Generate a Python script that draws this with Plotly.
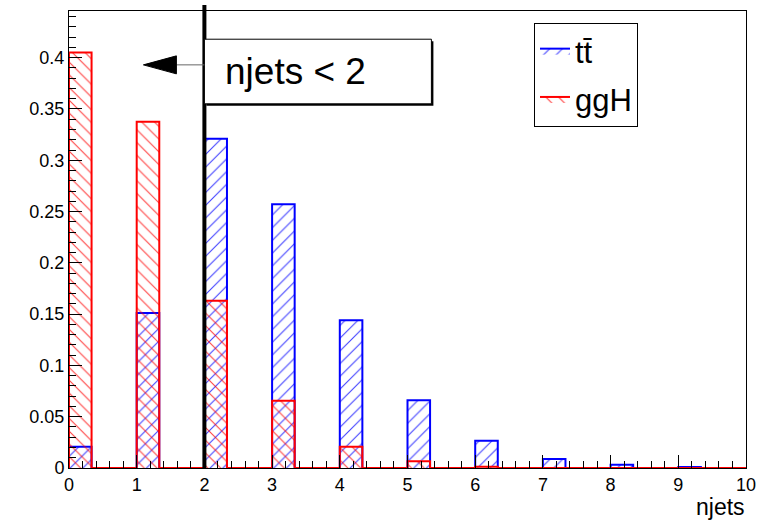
import numpy as np
import plotly.graph_objects as go

# ---- data: normalized njets distributions (fraction of events per njets value)
njets = [0, 1, 2, 3, 4, 5, 6, 7, 8, 9]
ttbar_frac = [0.0207, 0.151, 0.321, 0.257, 0.144, 0.066, 0.0266, 0.0088, 0.0032, 0.0010]
ggh_frac = [0.405, 0.3375, 0.163, 0.0655, 0.0207, 0.0065, 0.0013, 0.0, 0.0, 0.0]
series_names = ["tt\u0304", "ggH"]
cut_value = 2
cut_label = "njets < 2"
x_ticks = list(range(0, 11))

# histogram binning: 30 bins between 0 and 10 (only first third of each unit filled)
n_bins, x_lo, x_hi = 30, 0.0, 10.0
edges = np.linspace(x_lo, x_hi, n_bins + 1)
bin_w = (x_hi - x_lo) / n_bins


def to_bins(values):
    contents = np.zeros(n_bins)
    for n, v in zip(njets, values):
        idx = int(round((n - x_lo) / bin_w))
        contents[idx] = v
    return contents


def step_xy(contents):
    xs = [edges[0]] + list(edges[:-1]) + [edges[-1]]
    ys = [0.0] + list(contents) + [contents[-1]]
    return xs, ys


y_max = max(max(ttbar_frac), max(ggh_frac)) * 1.1

fig = go.Figure()

styles = [
    dict(color="#0000ff", shape="/"),
    dict(color="#ff0000", shape="\\"),
]
for name, vals, st in zip(series_names, [ttbar_frac, ggh_frac], styles):
    xs, ys = step_xy(to_bins(vals))
    fig.add_trace(go.Scatter(
        x=xs, y=ys, mode="lines", name=name, legendgroup=name,
        line=dict(color=st["color"], width=2, shape="hv"),
        fill="tozeroy", fillcolor="rgba(0,0,0,0)",
        fillpattern=dict(shape=st["shape"], fgcolor=st["color"], bgcolor="rgba(0,0,0,0)",
                         size=9, solidity=0.12, fgopacity=0.75),
    ))

plot_w = 774 - 69 - 28
px_per_x = plot_w / (x_hi - x_lo)
plot_h = 526 - 11 - 58
px_per_y = plot_h / y_max

# cut line
fig.add_shape(type="line", xref="x", yref="paper", x0=cut_value, x1=cut_value,
              y0=0, y1=1 + 6 / plot_h, line=dict(color="black", width=4), layer="above")

# text box (TPaveText-like) with small shadow
box_x1 = cut_value + 227 / px_per_x
box_y0 = 0.355
box_y1 = 0.418
fig.add_shape(type="rect", xref="x", yref="y",
              x0=cut_value + 2 / px_per_x, x1=box_x1 + 2 / px_per_x,
              y0=box_y0 - 2 / px_per_y, y1=box_y1 - 2 / px_per_y,
              fillcolor="black", line=dict(width=0), layer="above")
fig.add_shape(type="rect", xref="x", yref="y", x0=cut_value, x1=box_x1,
              y0=box_y0, y1=box_y1, fillcolor="white",
              line=dict(color="black", width=1), layer="above")
fig.add_annotation(x=cut_value + 19 / px_per_x, y=(box_y0 + box_y1) / 2, xref="x", yref="y",
                   text=cut_label, showarrow=False, xanchor="left", yanchor="middle",
                   font=dict(size=37, color="black", family="Liberation Sans, Arial, sans-serif"))

# arrow pointing to the left of the cut
arrow_y = 0.393
fig.add_shape(type="path", xref="x", yref="y", xsizemode="pixel", ysizemode="pixel",
              xanchor=cut_value, yanchor=arrow_y, path="M-28,0 L0,0",
              line=dict(color="#666666", width=1), layer="above")
fig.add_shape(type="path", xref="x", yref="y", xsizemode="pixel", ysizemode="pixel",
              xanchor=cut_value, yanchor=arrow_y, path="M-61,0 L-28,9 L-28,-9 Z",
              fillcolor="black", line=dict(color="black", width=1), layer="above")

# x axis title (right aligned, ROOT style)
fig.add_annotation(x=1, y=-39 / plot_h, xref="paper", yref="paper", text="njets",
                   showarrow=False, xanchor="right", yanchor="middle", xshift=1,
                   font=dict(size=23, color="black", family="Liberation Sans, Arial, sans-serif"))

axis_common = dict(
    showgrid=False, zeroline=False, showline=True, linecolor="black", linewidth=1,
    mirror=True, ticks="inside", tickcolor="black", tickwidth=1, ticklen=13,
    tickfont=dict(size=18, color="black", family="Liberation Sans, Arial, sans-serif"),
)

fig.update_layout(
    width=774, height=526,
    margin=dict(l=69, r=28, t=11, b=58),
    paper_bgcolor="white", plot_bgcolor="white",
    font=dict(family="Liberation Sans, Arial, sans-serif", color="black"),
    xaxis=dict(range=[x_lo, x_hi], tickvals=x_ticks, ticktext=[str(t) for t in x_ticks],
               minor=dict(dtick=0.2, ticks="inside", ticklen=7, tickcolor="black"),
               **axis_common),
    yaxis=dict(range=[0, y_max], dtick=0.05,
               minor=dict(dtick=0.01, ticks="inside", ticklen=7, tickcolor="black"),
               **axis_common),
    legend=dict(x=(534 - 69) / plot_w, y=(468 - 23) / plot_h, xanchor="left", yanchor="top",
                bgcolor="white", bordercolor="black", borderwidth=1,
                font=dict(size=31, color="black", family="Liberation Sans, Arial, sans-serif"),
                traceorder="grouped", tracegroupgap=5),
    showlegend=True,
)

fig.write_html("out.html")
